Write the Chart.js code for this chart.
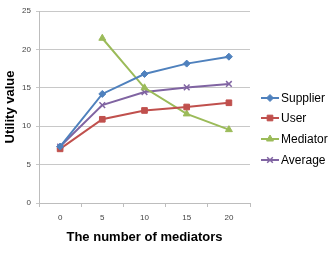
<!DOCTYPE html>
<html>
<head>
<meta charset="utf-8">
<script src="https://cdn.jsdelivr.net/npm/chart.js@4"></script>
<style>
  html, body { margin: 0; padding: 0; background: #fff; }
  #wrap { width: 331px; height: 253px; }
</style>
</head>
<body>
<div id="wrap"><canvas id="chart"></canvas></div>
<script>
// Data
const mediatorCounts = ['0', '5', '10', '15', '20'];
const supplierValues = [7.35, 14.2, 16.8, 18.15, 19.05];
const userValues = [7.05, 10.9, 12.05, 12.5, 13.05];
const mediatorValues = [null, 21.45, 15.0, 11.6, 9.55];
const averageValues = [7.35, 12.75, 14.45, 15.05, 15.5];
const yTicks = [0, 5, 10, 15, 20, 25];

const FONT = "'Liberation Sans', Arial, sans-serif";

function series(label, data, color, pointStyle, radius) {
    return {
        label, data,
        borderColor: color,
        backgroundColor: color,
        borderWidth: 2,
        pointStyle,
        pointRadius: radius,
        pointBorderWidth: pointStyle === 'crossRot' ? 1.5 : 1,
        pointBorderColor: color,
        pointBackgroundColor: color,
        tension: 0,
        spanGaps: false
    };
}

// Excel-like legend: short line with marker in the middle, text to the right
const sideLegend = {
    id: 'sideLegend',
    afterDraw(chart) {
        const ctx = chart.ctx;
        const rows = [98, 118, 139, 160];
        chart.data.datasets.forEach((ds, i) => {
            const y = rows[i];
            ctx.save();
            ctx.strokeStyle = ds.borderColor;
            ctx.lineWidth = 2;
            ctx.beginPath();
            ctx.moveTo(261, y);
            ctx.lineTo(279, y);
            ctx.stroke();
            ctx.fillStyle = ds.borderColor;
            ctx.lineWidth = ds.pointBorderWidth;
            Chart.helpers.drawPoint(ctx, {
                pointStyle: ds.pointStyle,
                radius: ds.pointRadius,
                borderWidth: ds.pointBorderWidth
            }, 270, y);
            ctx.fillStyle = '#000';
            ctx.font = '12px ' + FONT;
            ctx.textBaseline = 'middle';
            ctx.textAlign = 'left';
            ctx.fillText(ds.label, 281, y + 1);
            ctx.restore();
        });
    }
};

new Chart(document.getElementById('chart'), {
    type: 'line',
    data: {
        labels: mediatorCounts,
        datasets: [
            series('Supplier', supplierValues, '#4f81bd', 'rectRot', 3.5),
            series('User', userValues, '#c0504d', 'rect', 4),
            series('Mediator', mediatorValues, '#9bbb59', 'triangle', 4),
            series('Average', averageValues, '#8064a2', 'crossRot', 4)
        ]
    },
    options: {
        responsive: true,
        maintainAspectRatio: false,
        animation: false,
        layout: { padding: { top: 11, right: 81, left: 0, bottom: 0 } },
        plugins: {
            legend: { display: false },
            tooltip: { enabled: false }
        },
        scales: {
            x: {
                offset: true,
                grid: {
                    offset: true,
                    drawOnChartArea: false,
                    color: '#bdbdbd',
                    tickLength: 4
                },
                border: { color: '#bdbdbd' },
                ticks: { color: '#444', font: { family: FONT, size: 8 }, padding: 6 },
                title: {
                    display: true,
                    text: 'The number of mediators',
                    color: '#000',
                    font: { family: FONT, size: 13, weight: 'bold' },
                    padding: { top: 4, bottom: 8 }
                },
                afterFit: s => { s.height = 50; }
            },
            y: {
                min: 0, max: 25,
                afterBuildTicks: s => { s.ticks = yTicks.map(v => ({ value: v })); },
                grid: { color: '#c8c8c8', tickLength: 3 },
                border: { color: '#bdbdbd' },
                ticks: { color: '#444', font: { family: FONT, size: 8 }, padding: 5 },
                title: {
                    display: true,
                    text: 'Utility value',
                    color: '#000',
                    font: { family: FONT, size: 13, weight: 'bold' },
                    padding: { top: 3, bottom: 0 }
                },
                afterFit: s => { s.width = 39; }
            }
        }
    },
    plugins: [sideLegend]
});
</script>
</body>
</html>
